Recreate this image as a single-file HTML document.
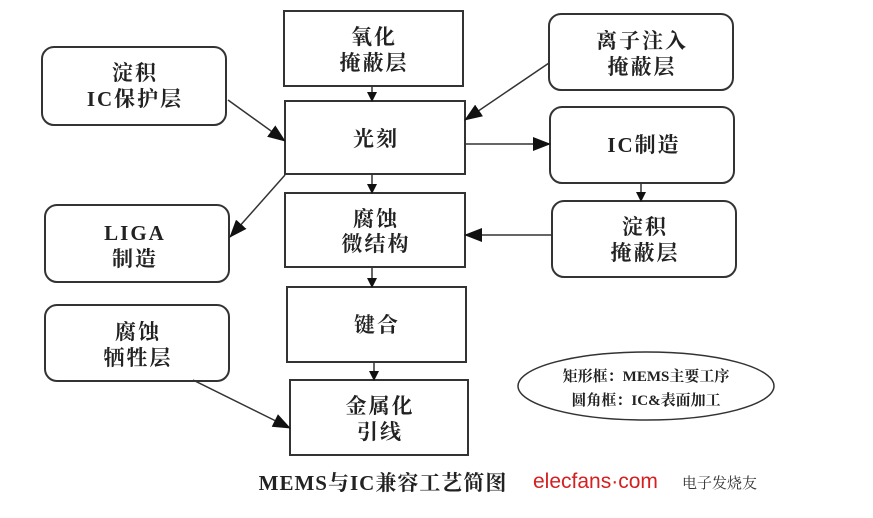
<!DOCTYPE html>
<html><head><meta charset="utf-8"><style>
body{margin:0;background:#fff;}
svg text{font-family:"Liberation Serif","Noto Serif CJK SC",serif;font-weight:bold;fill:#222;}
</style></head><body>
<svg width="873" height="513" viewBox="0 0 873 513" xmlns="http://www.w3.org/2000/svg">
<defs><marker id="a" markerWidth="10" markerHeight="10" refX="9" refY="5" orient="auto" markerUnits="userSpaceOnUse"><path d="M0,0 L10,5 L0,10 z" fill="#111"/></marker>
<marker id="b" markerWidth="18" markerHeight="14" refX="17" refY="7" orient="auto" markerUnits="userSpaceOnUse"><path d="M0,0 L18,7 L0,14 z" fill="#111"/></marker></defs>
<g fill="#fff" stroke="#333" stroke-width="2">
<rect x="284" y="11" width="179" height="75"/>
<rect x="285" y="101" width="180" height="73"/>
<rect x="285" y="193" width="180" height="74"/>
<rect x="287" y="287" width="179" height="75"/>
<rect x="290" y="380" width="178" height="75"/>
<rect x="42" y="47" width="184" height="78" rx="12"/>
<rect x="45" y="205" width="184" height="77" rx="12"/>
<rect x="45" y="305" width="184" height="76" rx="12"/>
<rect x="549" y="14" width="184" height="76" rx="12"/>
<rect x="550" y="107" width="184" height="76" rx="12"/>
<rect x="552" y="201" width="184" height="76" rx="12"/>
<ellipse cx="646" cy="386" rx="128" ry="34" stroke-width="1.5"/>
</g>
<g stroke="#333" stroke-width="1.5" fill="none">
<line x1="372" y1="86" x2="372" y2="101" marker-end="url(#a)"/>
<line x1="372" y1="174" x2="372" y2="193" marker-end="url(#a)"/>
<line x1="372" y1="267" x2="372" y2="287" marker-end="url(#a)"/>
<line x1="374" y1="362" x2="374" y2="380" marker-end="url(#a)"/>
<line x1="641" y1="183" x2="641" y2="201" marker-end="url(#a)"/>
<line x1="228" y1="100" x2="285" y2="141" marker-end="url(#b)"/>
<line x1="285" y1="175" x2="230" y2="237" marker-end="url(#b)"/>
<line x1="549" y1="63" x2="465" y2="120" marker-end="url(#b)"/>
<line x1="465" y1="144" x2="550" y2="144" marker-end="url(#b)"/>
<line x1="552" y1="235" x2="465" y2="235" marker-end="url(#b)"/>
<line x1="193" y1="380" x2="290" y2="428" marker-end="url(#b)"/>
</g>
<g font-size="21" text-anchor="middle" letter-spacing="2">
<text x="374" y="44">氧化</text><text x="374" y="70">掩蔽层</text>
<text x="376" y="146">光刻</text>
<text x="376" y="226">腐蚀</text><text x="376" y="251">微结构</text>
<text x="377" y="332">键合</text>
<text x="380" y="413">金属化</text><text x="380" y="439">引线</text>
<text x="135" y="80">淀积</text><text x="135" y="106">IC保护层</text>
<text x="135" y="240">LIGA</text><text x="135" y="266">制造</text>
<text x="138" y="339">腐蚀</text><text x="138" y="365">牺牲层</text>
<text x="642" y="48">离子注入</text><text x="642" y="74">掩蔽层</text>
<text x="644" y="152">IC制造</text>
<text x="645" y="234">淀积</text><text x="645" y="260">掩蔽层</text>
</g>
<g font-size="15" text-anchor="middle">
<text x="646" y="381">矩形框：MEMS主要工序</text>
<text x="646" y="405">圆角框：IC&amp;表面加工</text>
</g>
<text x="383" y="490" font-size="21" text-anchor="middle" letter-spacing="1">MEMS与IC兼容工艺简图</text>
<text x="533" y="488" font-size="21" style="fill:#d42020;font-family:'Liberation Sans',sans-serif;font-weight:normal">elecfans·com</text>
<text x="682" y="488" font-size="15" style="font-weight:normal;fill:#333">电子发烧友</text>
</svg>
</body></html>
